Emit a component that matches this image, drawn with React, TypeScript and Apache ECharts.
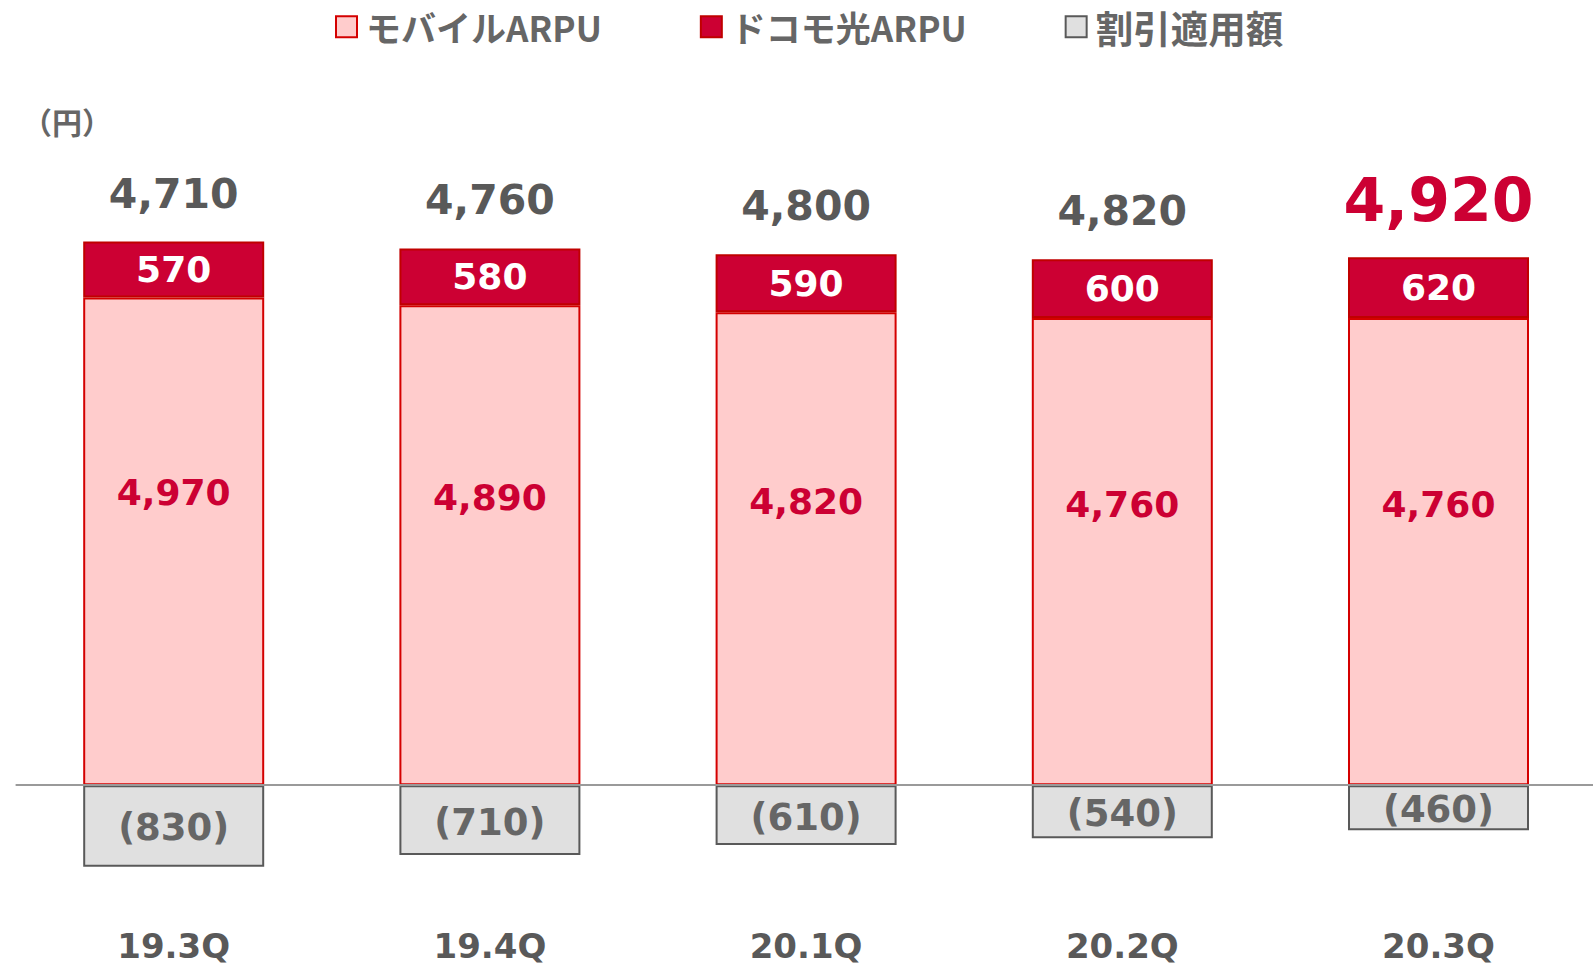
import React, { useEffect, useRef } from "react";
import * as echarts from "echarts";

const categories = ["19.3Q", "19.4Q", "20.1Q", "20.2Q", "20.3Q"];
const mobileArpu = [4970, 4890, 4820, 4760, 4760];
const hikariArpu = [570, 580, 590, 600, 620];
const discount = [-830, -710, -610, -540, -460];
const totals = [4710, 4760, 4800, 4820, 4920];

const SERIES_NAMES = ["モバイルARPU", "ドコモ光ARPU", "割引適用額"];
const NUM_FONT = "'DejaVu Sans', Verdana, sans-serif";
const JP_FONT = "'Noto Sans CJK JP', 'Noto Sans', sans-serif";
const fmt = (v: number) => v.toLocaleString("en-US");

export default function App() {
  const ref = useRef<HTMLDivElement>(null);
  useEffect(() => {
    if (!ref.current) return;
    const chart = echarts.init(ref.current, undefined, { renderer: "svg" });
    const last = categories.length - 1;
    chart.setOption({
      animation: false,
      backgroundColor: "#ffffff",
      legend: {
        data: [
          { name: SERIES_NAMES[0] },
          { name: SERIES_NAMES[1] },
          { name: SERIES_NAMES[2], textStyle: { fontSize: 37.5, lineHeight: 34 } },
        ],
        top: 3,
        left: 330,
        icon: "rect",
        itemWidth: 21,
        itemHeight: 21,
        itemGap: 98,
        textStyle: {
          fontFamily: JP_FONT,
          fontWeight: "bold",
          fontSize: 35,
          lineHeight: 34,
          color: "#666666",
          padding: [0, 0, 0, 4],
        },
      },
      graphic: [
        {
          type: "text",
          left: 22,
          top: 106,
          style: {
            text: "（円）",
            fontFamily: JP_FONT,
            fontWeight: "bold",
            fontSize: 30,
            fill: "#666666",
          },
        },
      ],
      grid: { left: 15.6, right: 3.4, top: 196.4, bottom: 44.4 },
      xAxis: {
        type: "category",
        data: categories,
        axisLine: { show: false, onZero: false },
        axisTick: { show: false },
        axisLabel: {
          margin: 6,
          fontFamily: NUM_FONT,
          fontWeight: "bold",
          fontSize: 34,
          color: "#595959",
        },
      },
      yAxis: {
        type: "value",
        min: -1400,
        max: 6000,
        show: false,
        splitLine: { show: false },
      },
      series: [
        {
          name: SERIES_NAMES[0],
          type: "bar",
          stack: "a",
          barWidth: 181,
          data: mobileArpu,
          itemStyle: { color: "#FFCCCC", borderColor: "#D40000", borderWidth: 2 },
          label: {
            show: true,
            position: ["50%", "40%"],
            align: "center",
            verticalAlign: "middle",
            fontFamily: NUM_FONT,
            fontWeight: "bold",
            fontSize: 36,
            color: "#CC0033",
            formatter: (p: any) => fmt(p.value),
          },
          markLine: {
            silent: true,
            symbol: "none",
            label: { show: false },
            lineStyle: { color: "#9a9a9a", width: 2, type: "solid" },
            data: [{ yAxis: 0 }],
          },
        },
        {
          name: SERIES_NAMES[1],
          type: "bar",
          stack: "a",
          barWidth: 181,
          data: hikariArpu,
          itemStyle: { color: "#CC0033", borderColor: "#C00000", borderWidth: 2 },
          label: {
            show: true,
            position: "inside",
            fontFamily: NUM_FONT,
            fontWeight: "bold",
            fontSize: 36,
            color: "#ffffff",
            formatter: (p: any) => fmt(p.value),
          },
        },
        {
          name: SERIES_NAMES[2],
          type: "bar",
          stack: "a",
          barWidth: 181,
          data: discount,
          itemStyle: { color: "#E0E0E0", borderColor: "#595959", borderWidth: 2 },
          label: {
            show: true,
            position: "inside",
            offset: [0, 2],
            fontFamily: NUM_FONT,
            fontWeight: "bold",
            fontSize: 37,
            color: "#666666",
            formatter: (p: any) => `(${fmt(Math.abs(p.value))})`,
          },
        },
        {
          name: "total",
          type: "scatter",
          symbolSize: 1,
          z: 10,
          itemStyle: { color: "rgba(0,0,0,0)", opacity: 1 },
          silent: true,
          data: categories.map((c, i) => {
            const item: any = {
              value: [c, mobileArpu[i] + hikariArpu[i], totals[i]],
            };
            if (i === last) {
              item.label = { fontSize: 60, color: "#CC0033" };
            }
            return item;
          }),
          label: {
            show: true,
            position: "top",
            distance: 27,
            opacity: 1,
            fontFamily: NUM_FONT,
            fontWeight: "bold",
            fontSize: 41,
            color: "#595959",
            formatter: (p: any) => fmt(p.value[2]),
          },
        },
      ],
    });
    return () => chart.dispose();
  }, []);
  return (
    <div
      style={{
        position: "absolute",
        left: 0,
        top: 0,
        width: 1593,
        height: 967,
        overflow: "hidden",
        background: "#ffffff",
      }}
    >
      <div ref={ref} style={{ width: 1600, height: 967 }} />
    </div>
  );
}
